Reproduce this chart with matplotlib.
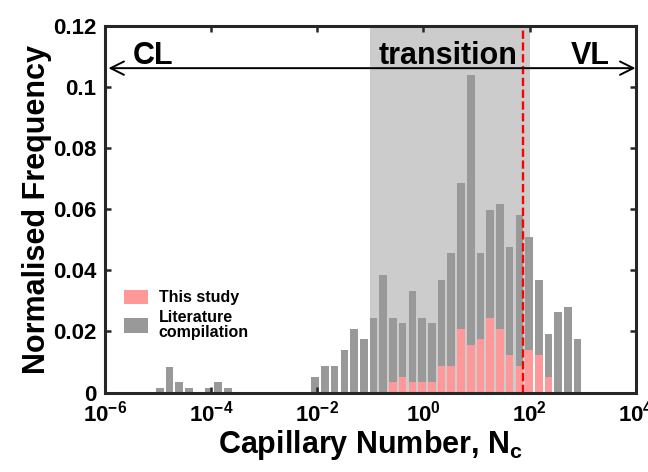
import numpy as np
import matplotlib
matplotlib.use("Agg")
import matplotlib.pyplot as plt

plt.rcParams['font.family'] = ['Liberation Sans', 'DejaVu Sans']
plt.rcParams['font.weight'] = 'bold'
plt.rcParams['mathtext.fontset'] = 'custom'
plt.rcParams['mathtext.rm'] = 'Liberation Sans:bold'
plt.rcParams['mathtext.it'] = 'Liberation Sans:bold'
plt.rcParams['mathtext.bf'] = 'Liberation Sans:bold'

# histogram bins of log10(Nc): first bin centre and bin width (decades)
bin_first = -4.964
bin_step = 0.1829

# literature compilation, normalised frequency per bin (44 bins)
literature = [0.0016, 0.0085, 0.0033, 0.0016, 0.0, 0.0016, 0.0033, 0.0016,
              0.0, 0.0, 0.0, 0.0, 0.0, 0.0, 0.0, 0.0,
              0.0050, 0.0086, 0.0086, 0.0138, 0.0209, 0.0174, 0.0245, 0.0385,
              0.0245, 0.0227, 0.0334, 0.0245, 0.0227, 0.0369, 0.0457, 0.0687,
              0.1041, 0.0457, 0.0598, 0.0617, 0.0476, 0.0582, 0.0510, 0.0369,
              0.0193, 0.0263, 0.0281, 0.0174]

# this study, same bins
this_study = [0.0] * 24 + [0.0033, 0.0050, 0.0033, 0.0033, 0.0033, 0.0087,
                           0.0087, 0.0209, 0.0157, 0.0174, 0.0245, 0.0209,
                           0.0122, 0.0087, 0.0139, 0.0122, 0.0051,
                           0.0, 0.0, 0.0]

transition = (1e-1, 1e2)
nc_critical = 74.0
xticks = [1e-6, 1e-4, 1e-2, 1e0, 1e2, 1e4]
xticklabels = [r'$10^{-6}$', r'$10^{-4}$', r'$10^{-2}$', r'$10^{0}$', r'$10^{2}$', r'$10^{4}$']
yticks = [0, 0.02, 0.04, 0.06, 0.08, 0.1, 0.12]
yticklabels = ['0', '0.02', '0.04', '0.06', '0.08', '0.1', '0.12']

centers = bin_first + bin_step * np.arange(len(literature))
bw = 0.78 * bin_step
left = 10 ** (centers - bw / 2)
width = 10 ** (centers + bw / 2) - left

fig = plt.figure(figsize=(6.48, 4.72), dpi=100)
ax = fig.add_axes([0.1616, 0.1684, 0.8199, 0.7765])
ax.set_xscale('log')

ax.axvspan(transition[0], transition[1], color='#cccccc', lw=0, zorder=0)
ax.bar(left, literature, width=width, align='edge', color='#999999', lw=0,
       zorder=1, label='Literature\ncompilation')
ax.bar(left, this_study, width=width, align='edge', color='#ff9999', lw=0,
       zorder=2, label='This study')
ax.axvline(nc_critical, color='#ff0000', lw=1.7, ls=(0, (3.5, 1.5)), zorder=3)

ax.annotate('', xy=(10 ** -5.93, 0.1062), xytext=(10 ** 3.99, 0.1062),
            arrowprops=dict(arrowstyle='<->', lw=1.4, color='black',
                            mutation_scale=24, shrinkA=0, shrinkB=0), zorder=4)
ax.text(10 ** -5.09, 0.1075, 'CL', ha='center', va='baseline', fontsize=22, fontweight='bold')
ax.text(10 ** 0.47, 0.1075, 'transition', ha='center', va='baseline', fontsize=22, fontweight='bold')
ax.text(10 ** 3.14, 0.1075, 'VL', ha='center', va='baseline', fontsize=22, fontweight='bold')

ax.set_xlim(1e-6, 1e4)
ax.set_ylim(0, 0.12)
ax.set_xticks(xticks)
ax.set_xticklabels(xticklabels)
ax.minorticks_off()
ax.set_yticks(yticks)
ax.set_yticklabels(yticklabels)
ax.tick_params(direction='in', length=4, width=1.8, labelsize=16, top=True, right=True,
               color='#262626', pad=6)
for s in ax.spines.values():
    s.set_linewidth(2.2)
    s.set_color('#262626')
    s.set_zorder(5)

ax.set_xlabel(r'Capillary Number, N$_\mathregular{c}$', fontsize=22, fontweight='bold', labelpad=1)
ax.set_ylabel('Normalised Frequency', fontsize=22, fontweight='bold', labelpad=1)

h, l = ax.get_legend_handles_labels()
leg = ax.legend(h[::-1], l[::-1], loc='upper left', bbox_to_anchor=(0.01, 0.32), frameon=False,
                fontsize=11.5, handlelength=1.45, handleheight=1.0, labelspacing=0.3,
                handletextpad=0.7)
for t in leg.get_texts():
    t.set_linespacing(1.0)

fig.savefig('out.png', dpi=100)
